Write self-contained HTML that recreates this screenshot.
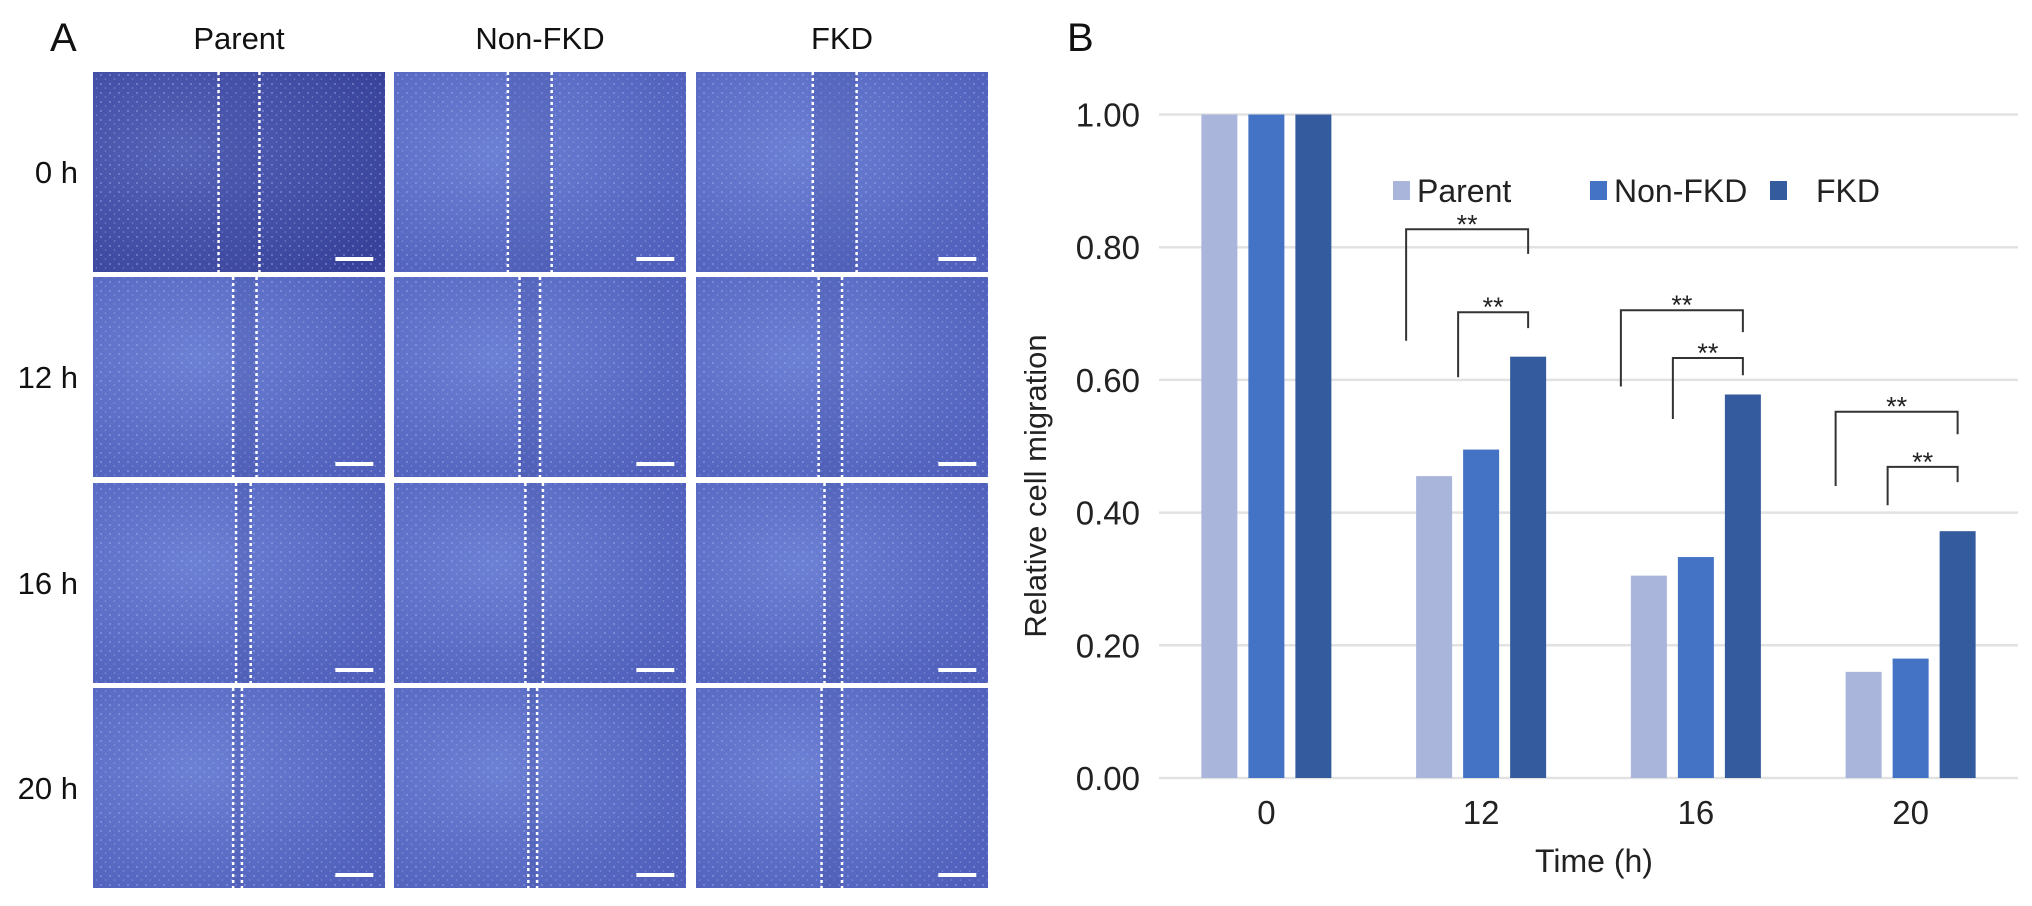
<!DOCTYPE html>
<html><head><meta charset="utf-8"><style>
body{margin:0;background:#fff;width:2032px;height:901px;overflow:hidden;font-family:"Liberation Sans",Arial,sans-serif;}
</style></head><body>
<svg id="fig" width="2032" height="901" xmlns="http://www.w3.org/2000/svg">
<defs>
<radialGradient id="gLight" cx="0.35" cy="0.4" r="0.8"><stop offset="0" stop-color="#6c80d4"/><stop offset="1" stop-color="#4f5fbb"/></radialGradient>
<radialGradient id="gDark" cx="0.3" cy="0.4" r="0.8"><stop offset="0" stop-color="#5563b8"/><stop offset="1" stop-color="#38429a"/></radialGradient>
<pattern id="speck" width="9" height="9" patternUnits="userSpaceOnUse"><circle cx="2" cy="3" r="1" fill="#a9b6ee" opacity="0.5"/><circle cx="6.5" cy="7" r="0.8" fill="#b4c0f2" opacity="0.45"/></pattern>
</defs>
<g id="panelA"></g>
<g id="panelB"></g>
</svg>
<script>
const NS='http://www.w3.org/2000/svg';
function mk(tag,attrs,parent,text){const e=document.createElementNS(NS,tag);for(const k in attrs)e.setAttribute(k,attrs[k]);if(text!==undefined)e.textContent=text;parent.appendChild(e);return e;}

// Panel A
const colLabels=['Parent','Non-FKD','FKD'];
const rowLabels=['0 h','12 h','16 h','20 h'];
const gapLines=[[[0.43,0.57],[0.39,0.54],[0.40,0.55]],[[0.48,0.56],[0.43,0.50],[0.42,0.50]],[[0.49,0.54],[0.45,0.51],[0.44,0.50]],[[0.48,0.51],[0.46,0.49],[0.43,0.50]]];
const A=document.getElementById('panelA');
const colX=[93,394,696], rowY=[72,277,483,688], TW=292, TH=200;
let t=mk('text',{x:50,y:51,'font-size':40,fill:'#111'},A,'A');


colLabels.forEach((c,i)=>{const e=mk('text',{x:colX[i]+TW/2,y:49,'font-size':31,'text-anchor':'middle',fill:'#111'},A,c);

});
rowLabels.forEach((r,j)=>{const e=mk('text',{x:78,y:rowY[j]+TH/2+11,'font-size':31,'text-anchor':'end',fill:'#111'},A,r);

});
for(let j=0;j<4;j++)for(let i=0;i<3;i++){
 const g=mk('g',{},A);
 
 
 const x=colX[i],y=rowY[j];
 mk('rect',{x:x,y:y,width:TW,height:TH,fill:(i==0&&j==0)?'url(#gDark)':'url(#gLight)'},g);
 mk('rect',{x:x,y:y,width:TW,height:TH,fill:'url(#speck)'},g);
 const gl=gapLines[j][i];
 mk('rect',{x:x+gl[0]*TW,y:y,width:(gl[1]-gl[0])*TW,height:TH,fill:'#3f4ba0',opacity:0.25},g);
 gl.forEach(f=>mk('line',{x1:x+f*TW,y1:y,x2:x+f*TW,y2:y+TH,stroke:'#fff','stroke-width':2.5,'stroke-dasharray':'3 3'},g));
 mk('rect',{x:x+TW*0.83,y:y+TH*0.925,width:TW*0.13,height:4,fill:'#fff'},g);
}

// Panel B
const categories=['0','12','16','20'];
const seriesNames=['Parent','Non-FKD','FKD'];
const parentVals=[1.00,0.455,0.305,0.16];
const nonFkdVals=[1.00,0.495,0.333,0.18];
const fkdVals=[1.00,0.635,0.578,0.372];
const yTicks=[0,0.2,0.4,0.6,0.8,1.0];
const yTickLabels=['0.00','0.20','0.40','0.60','0.80','1.00'];
// significance brackets: [category index, from series, to series, top value, left end value, right end value]
const brackets=[[1,0,2,0.827,0.659,0.79],[1,1,2,0.702,0.604,0.678],[2,0,2,0.705,0.59,0.672],[2,1,2,0.633,0.541,0.607],[3,0,2,0.552,0.44,0.518],[3,1,2,0.469,0.411,0.446]];
const colors=['#a9b5da','#4472c4','#345b9d'];
const B=document.getElementById('panelB');
const X0=1159,X1=2018,Y0=778,YH=663.5;
const band=(X1-X0)/categories.length, bw=36, bgap=11;
const yS=v=>Y0-v*YH;
const barX=(c,s)=>X0+band*c+band/2+(s-1)*(bw+bgap)-bw/2;
t=mk('text',{x:1067,y:51,'font-size':40,fill:'#111'},B,'B');


yTicks.forEach((v,k)=>{
 const l=mk('line',{x1:X0,x2:X1,y1:yS(v),y2:yS(v),stroke:'#e2e2e2','stroke-width':2.5},B);
 
 
 const e=mk('text',{x:1140,y:yS(v)+12,'font-size':33,'text-anchor':'end',fill:'#222'},B,yTickLabels[k]);
 
 
});
[parentVals,nonFkdVals,fkdVals].forEach((vals,s)=>vals.forEach((v,c)=>{
 const r=mk('rect',{x:barX(c,s),y:yS(v),width:bw,height:Y0-yS(v),fill:colors[s]},B);
 
 
}));
categories.forEach((c,k)=>{const e=mk('text',{x:X0+band*k+band/2,y:824,'font-size':33,'text-anchor':'middle',fill:'#222'},B,c);
 
 });
t=mk('text',{x:1594,y:872,'font-size':32,'text-anchor':'middle',fill:'#222'},B,'Time (h)');


t=mk('text',{x:0,y:0,'font-size':31,'text-anchor':'middle',fill:'#222',transform:'translate(1046,486) rotate(-90)'},B,'Relative cell migration');


const legX=[1393,1590,1770];
seriesNames.forEach((n,s)=>{
 const g=mk('g',{},B);
 
 
 mk('rect',{x:legX[s],y:181,width:17,height:19,fill:colors[s]},g);
 mk('text',{x:legX[s]+24+(s==2?22:0),y:202,'font-size':32,fill:'#222'},g,n);
});
brackets.forEach(b=>{
 const xl=barX(b[0],b[1])-10+(b[1]==1?5:0), xr=barX(b[0],b[2])+bw/2;
 const g=mk('g',{},B);
 
 
 mk('polyline',{points:`${xl},${yS(b[4])} ${xl},${yS(b[3])} ${xr},${yS(b[3])} ${xr},${yS(b[5])}`,fill:'none',stroke:'#333','stroke-width':2},g);
 mk('text',{x:(xl+xr)/2,y:yS(b[3])+4,'font-size':27,'text-anchor':'middle',fill:'#222'},g,'**');
});
</script>
</body></html>
